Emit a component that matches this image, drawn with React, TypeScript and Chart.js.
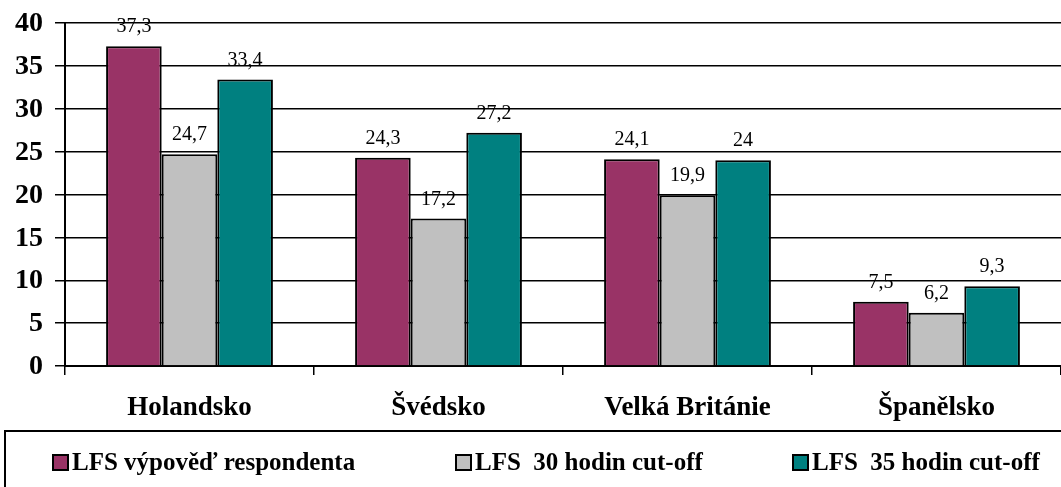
import { useEffect, useRef } from 'react';
import { Chart, registerables } from 'chart.js';

Chart.register(...registerables);

const categories = ['Holandsko', 'Švédsko', 'Velká Británie', 'Španělsko'];
const seriesNames = ['LFS výpověď respondenta', 'LFS  30 hodin cut-off', 'LFS  35 hodin cut-off'];
const respondentValues = [37.3, 24.3, 24.1, 7.5];
const cutoff30Values = [24.7, 17.2, 19.9, 6.2];
const cutoff35Values = [33.4, 27.2, 24, 9.3];
const seriesColors = ['#993366', '#C0C0C0', '#008080'];
const yTickLabels = ['0', '5', '10', '15', '20', '25', '30', '35', '40'];

const FONT = '"Liberation Serif", "Times New Roman", serif';

const textPlugin = {
  id: 'textPlugin',
  afterDraw(chart: any) {
    const ctx: CanvasRenderingContext2D = chart.ctx;
    const area = chart.chartArea;
    ctx.save();
    ctx.fillStyle = '#000';

    // y tick labels
    const ys = chart.scales.y;
    ctx.font = `bold 28px ${FONT}`;
    ctx.textBaseline = 'middle';
    ctx.textAlign = 'right';
    ys.ticks.forEach((t: any, i: number) => {
      const py = ys.getPixelForTick(i);
      const idx = yTickLabels.indexOf(String(t.value));
      const label = idx >= 0 ? yTickLabels[idx] : String(t.value);
      ctx.fillText(label, area.left - 22, py + 1);
    });

    // category labels
    const xs = chart.scales.x;
    ctx.font = `bold 27px ${FONT}`;
    ctx.textBaseline = 'alphabetic';
    ctx.textAlign = 'center';
    categories.forEach((c, i) => {
      ctx.fillText(c, xs.getPixelForValue(i), area.bottom + 49);
    });

    // data labels
    ctx.font = `20px ${FONT}`;
    chart.data.datasets.forEach((ds: any, d: number) => {
      const meta = chart.getDatasetMeta(d);
      meta.data.forEach((bar: any, i: number) => {
        const text = String(ds.data[i]).replace('.', ',');
        ctx.fillText(text, bar.x, bar.y - 14);
      });
    });

    // legend box
    ctx.lineWidth = 2;
    ctx.strokeStyle = '#000';
    ctx.strokeRect(5, 431, 1080, 100);
    const itemX = [52, 455, 792];
    ctx.font = `bold 25px ${FONT}`;
    ctx.textAlign = 'left';
    chart.data.datasets.forEach((ds: any, d: number) => {
      const x = itemX[d];
      ctx.fillStyle = ds.backgroundColor;
      ctx.fillRect(x + 1, 455, 15, 15);
      ctx.lineWidth = 2;
      ctx.strokeRect(x + 1, 455, 15, 15);
      ctx.fillStyle = '#000';
      ctx.fillText(ds.label, x + 20, 470);
    });
    ctx.restore();
  },
};

export default function App() {
  const ref = useRef<HTMLCanvasElement>(null);

  useEffect(() => {
    if (!ref.current) return;
    const values = [respondentValues, cutoff30Values, cutoff35Values];
    const chart = new Chart(ref.current, {
      type: 'bar',
      data: {
        labels: categories,
        datasets: seriesNames.map((name, i) => ({
          label: name,
          data: values[i],
          backgroundColor: seriesColors[i],
          borderColor: '#000',
          borderWidth: 2,
          categoryPercentage: 0.67,
          barPercentage: 1,
        })),
      },
      options: {
        animation: false,
        responsive: false,
        maintainAspectRatio: false,
        layout: { padding: { top: 23, right: 0, bottom: 57, left: 0 } },
        plugins: { legend: { display: false }, tooltip: { enabled: false } },
        scales: {
          x: {
            type: 'category',
            offset: true,
            grid: { offset: true, drawOnChartArea: false, drawTicks: true, tickLength: 9, color: '#000', lineWidth: 1.5 },
            border: { display: true, color: '#000', width: 2 },
            ticks: { display: false },
            afterFit: (s: any) => { s.height = 64; },
          },
          y: {
            min: 0,
            max: 40,
            ticks: { stepSize: 5, display: false },
            grid: { color: '#000', lineWidth: 1.5, tickLength: 10, drawTicks: true },
            border: { display: true, color: '#000', width: 2 },
            afterFit: (s: any) => { s.width = 65; },
          },
        },
      } as any,
      plugins: [textPlugin],
    });
    return () => chart.destroy();
  }, []);

  return (
    <div style={{ position: 'fixed', left: 0, top: 0, width: 1061, height: 487, background: '#fff' }}>
      <canvas ref={ref} width={1061} height={487} style={{ display: 'block', width: 1061, height: 487 }} />
    </div>
  );
}
